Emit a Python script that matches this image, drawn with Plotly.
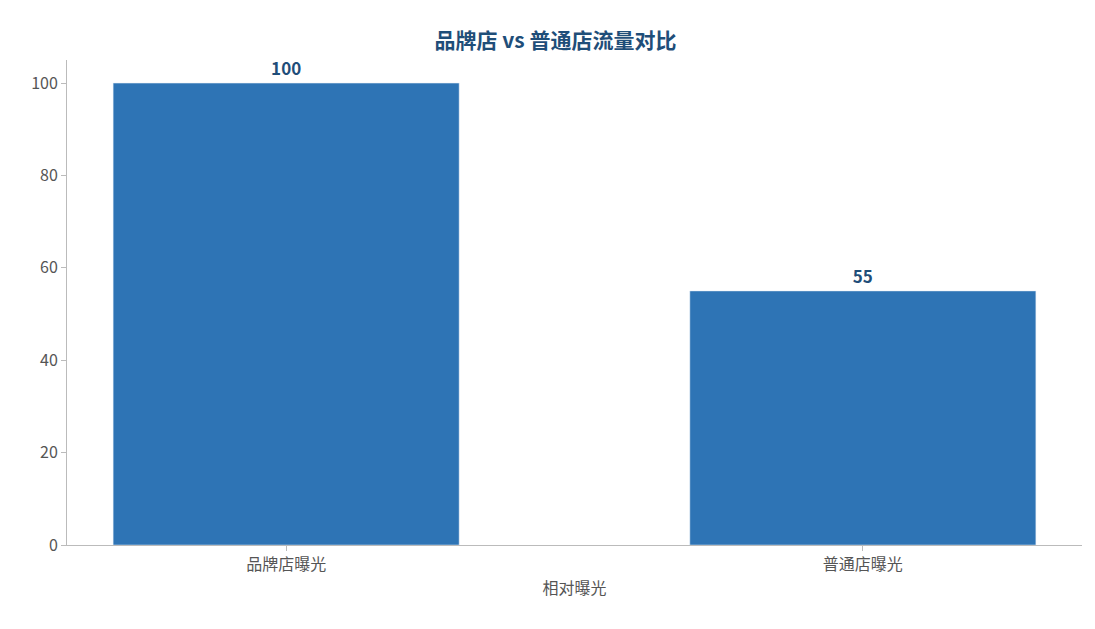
import plotly.graph_objects as go

categories = ["品牌店曝光", "普通店曝光"]
values = [100, 55]

font = "Noto Sans CJK SC"
fig = go.Figure(go.Bar(
    x=categories, y=values, marker_color="#2E74B5", width=0.6,
    text=[str(v) for v in values], textposition="outside",
    textfont=dict(family=font, size=17, color="#1F4E79", weight="bold"),
    cliponaxis=False,
))
fig.update_layout(
    width=1095, height=629, plot_bgcolor="white", paper_bgcolor="white",
    margin=dict(l=59, r=21, t=52, b=92),
    title=dict(text="<b>品牌店 vs 普通店流量对比</b>", x=0.5, xanchor="center", y=0.96,
               font=dict(family=font, size=21, color="#1F4E79")),
    font=dict(family=font, color="#555555", size=15),
    showlegend=False,
    xaxis=dict(title=dict(text="相对曝光", font=dict(size=16), standoff=8), showline=True,
               range=[-0.38, 1.38],
               linecolor="#BBBBBB", ticks="outside", ticklen=5, tickcolor="#BBBBBB",
               tickfont=dict(size=16)),
    yaxis=dict(range=[0, 105], dtick=20, showline=True, linecolor="#BBBBBB", showgrid=False,
               ticks="outside", ticklen=5, tickcolor="#BBBBBB", zeroline=False,
               tickfont=dict(size=16)),
)
fig.write_html("out.html")
